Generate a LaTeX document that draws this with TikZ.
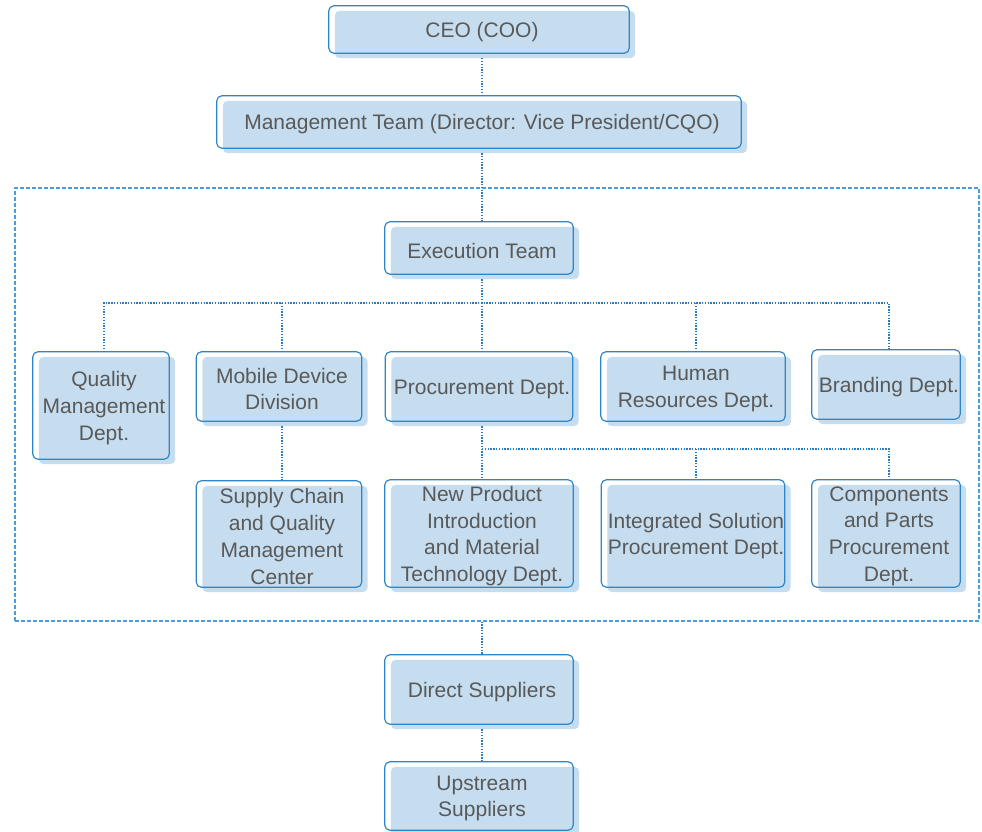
\documentclass[tikz,border=0pt]{standalone}
\usepackage{fontspec}
\setmainfont{Liberation Sans}
\usetikzlibrary{backgrounds}
\definecolor{boxline}{HTML}{2E86C8}
\definecolor{boxfill}{HTML}{C5DDEF}
\definecolor{boxtext}{HTML}{595959}
\definecolor{linkc}{HTML}{2B7BC0}
\definecolor{framec}{HTML}{4A9FD8}
\begin{document}
\begin{tikzpicture}[x=1pt,y=-1pt,
  unit/.style={inner sep=0pt, align=center, text=boxtext,
    font=\fontsize{21}{26.7}\selectfont},
  link/.style={draw=linkc, line width=1.3pt, dash pattern=on 1.3pt off 1.5pt},
  frame/.style={draw=framec, line width=1.2pt, dash pattern=on 4pt off 2pt, inner sep=0pt}]
\useasboundingbox (0,0) rectangle (982,832);

% the dashed group around the execution level
\node[frame, minimum width=964pt, minimum height=433pt] (grp) at (497,404.5) {};

% units (each node spans its outline plus the offset shade)
\node[unit, minimum width=306pt, minimum height=52pt] (ceo) at (482,32) {CEO (COO)};
\node[unit, minimum width=530pt, minimum height=57pt] (mgmt) at (482,124.5) {Management Team (Director: Vice President/CQO)};
\node[unit, minimum width=194pt, minimum height=57pt] (exec) at (482,250.5) {Execution Team};

\node[unit, minimum width=142pt, minimum height=112pt] (quality) at (104,408) {Quality\\Management\\Dept.};
\node[unit, minimum width=171pt, minimum height=74pt] (mobile) at (282,389) {Mobile Device\\Division};
\node[unit, minimum width=193pt, minimum height=74pt] (proc) at (482,389) {Procurement Dept.};
\node[unit, minimum width=190pt, minimum height=74pt] (hr) at (696,389) {Human\\Resources Dept.};
\node[unit, minimum width=154pt, minimum height=74pt] (brand) at (889,387) {Branding Dept.};

\node[unit, minimum width=171pt, minimum height=111pt] (supply) at (282,536.5) {Supply Chain\\and Quality\\Management\\Center};
\node[unit, minimum width=194pt, minimum height=112pt] (npi) at (482,536) {New Product\\Introduction\\and Material\\Technology Dept.};
\node[unit, minimum width=189pt, minimum height=112pt] (isp) at (696,536) {Integrated Solution\\Procurement Dept.};
\node[unit, minimum width=154pt, minimum height=112pt] (cpp) at (889,536) {Components\\and Parts\\Procurement\\Dept.};

\node[unit, minimum width=194pt, minimum height=74pt] (direct) at (482,692) {Direct Suppliers};
\node[unit, minimum width=194pt, minimum height=73pt] (upstream) at (482,798.5) {Upstream\\Suppliers};

% shade and outline behind every unit's text
\begin{pgfonlayer}{background}
\foreach \n in {ceo,mgmt,exec,quality,mobile,proc,hr,brand,supply,npi,isp,cpp,direct,upstream}{
  \fill[boxfill, rounded corners=5pt]
    ([xshift=6pt,yshift=-5pt]\n.north west) rectangle (\n.south east);
  \draw[boxline, line width=1.2pt, rounded corners=5pt]
    (\n.north west) rectangle ([xshift=-6pt,yshift=5pt]\n.south east);
}
\end{pgfonlayer}

% connectors
\coordinate (busA) at (0,303);
\coordinate (busB) at (0,449);
\draw[link] (ceo.south) -- (mgmt.north);
\draw[link] (mgmt.south) -- (exec.north);
\draw[link] (exec.south) -- (exec.south |- busA);
\draw[link] (quality.north) -- (quality.north |- busA) -- (brand.north |- busA) -- (brand.north);
\draw[link] (mobile.north |- busA) -- (mobile.north);
\draw[link] (proc.north |- busA) -- (proc.north);
\draw[link] (hr.north |- busA) -- (hr.north);
\draw[link] (mobile.south) -- (supply.north);
\draw[link] (proc.south) -- (npi.north);
\draw[link] (proc.south |- busB) -- (cpp.north |- busB) -- (cpp.north);
\draw[link] (isp.north |- busB) -- (isp.north);
\draw[link] (grp.south -| direct.north) -- (direct.north);
\draw[link] (direct.south) -- (upstream.north);
\end{tikzpicture}
\end{document}
